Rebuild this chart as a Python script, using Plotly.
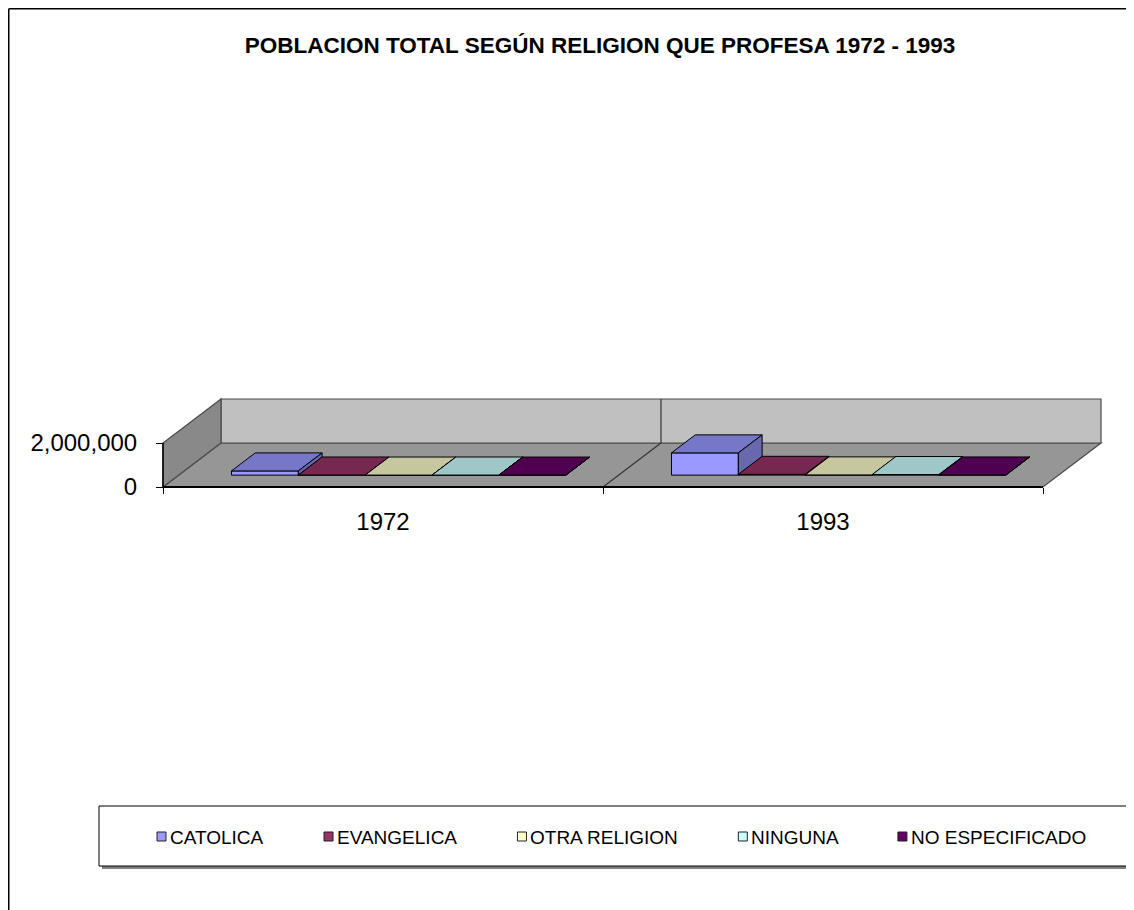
import plotly.graph_objects as go

# ---------------- data ----------------
categories = ["1972", "1993"]
series_names = ["CATOLICA", "EVANGELICA", "OTRA RELIGION", "NINGUNA", "NO ESPECIFICADO"]
catolica = [190000, 1010000]
evangelica = [4000, 35000]
otra_religion = [2000, 10000]
ninguna = [3000, 25000]
no_especificado = [1000, 6000]
y_tick_values = [0, 2000000]
y_tick_labels = ["0", "2,000,000"]
series_colors = ["#9999FF", "#993366", "#FFFFCC", "#CCFFFF", "#660066"]

series_values = [catolica, evangelica, otra_religion, ninguna, no_especificado]

# ---------------- geometry (oblique 3-D look) ----------------
OFF = 8                      # page body margin
W, H = 1134 - OFF, 910 - OFF


def fx(px):                  # window pixel -> figure pixel
    return px - OFF


PLOT_L, PLOT_R, PLOT_T, PLOT_B = fx(161), fx(1110), fx(397), fx(489)
PX_PER_CAT = 440.0
PX_PER_VAL = 22.0 / 1e6
X0_PX, Y0_PX = fx(163), fx(487)  # pixel of x=0 / value=0

x_range = [(PLOT_L - X0_PX) / PX_PER_CAT, (PLOT_R - X0_PX) / PX_PER_CAT]
y_range = [-(PLOT_B - Y0_PX) / PX_PER_VAL, (Y0_PX - PLOT_T) / PX_PER_VAL]

WALL_H = y_tick_values[-1]
DEPTH_DX = 58.0 / PX_PER_CAT
DEPTH_DY = 44.0 / PX_PER_VAL
D0, D1 = 0.27, 0.68
BAR_W = 0.152
GAP = 0.12
ddx = (D1 - D0) * DEPTH_DX
ddy = (D1 - D0) * DEPTH_DY
FONT = "Liberation Sans, Arial, sans-serif"


def shade(hexcol, f):
    h = hexcol.lstrip("#")
    r, g, b = (int(h[i:i + 2], 16) for i in (0, 2, 4))
    return "rgb(%d,%d,%d)" % (round(r * f), round(g * f), round(b * f))


fig = go.Figure()
ncat = len(categories)

for i, (name, vals, col) in enumerate(zip(series_names, series_values, series_colors)):
    xs_front, bases = [], []
    top_x, top_y, side_x, side_y = [], [], [], []
    for j, v in enumerate(vals):
        xl = j + GAP + i * BAR_W + D0 * DEPTH_DX
        base = D0 * DEPTH_DY
        xs_front.append(xl + BAR_W / 2)
        bases.append(base)
        yt = base + v
        top_x += [xl, xl + BAR_W, xl + BAR_W + ddx, xl + ddx, xl, None]
        top_y += [yt, yt, yt + ddy, yt + ddy, yt, None]
        xr = xl + BAR_W
        side_x += [xr, xr, xr + ddx, xr + ddx, xr, None]
        side_y += [base, yt, yt + ddy, base + ddy, base, None]
    fig.add_trace(go.Bar(
        x=xs_front, y=vals, base=bases, width=BAR_W, name=name,
        marker=dict(color=col, line=dict(color="black", width=1)),
        showlegend=False,
    ))
    fig.add_trace(go.Scatter(
        x=top_x, y=top_y, mode="lines", fill="toself",
        fillcolor=shade(col, 0.78), line=dict(color="black", width=1),
        showlegend=False, hoverinfo="skip",
    ))
    fig.add_trace(go.Scatter(
        x=side_x, y=side_y, mode="lines", fill="toself",
        fillcolor=shade(col, 0.68), line=dict(color="black", width=1),
        showlegend=False, hoverinfo="skip",
    ))

# ---------------- walls / floor ----------------
def P(pts):
    return "M " + " L ".join("%.6f,%.3f" % p for p in pts) + " Z"

edge = dict(color="#4a4a4a", width=1.2)
shapes = [
    dict(type="path", xref="x", yref="y", layer="below",
         path=P([(0, 0), (ncat, 0), (ncat + DEPTH_DX, DEPTH_DY), (DEPTH_DX, DEPTH_DY)]),
         fillcolor="#969696", line=edge),
    dict(type="path", xref="x", yref="y", layer="below",
         path=P([(DEPTH_DX, DEPTH_DY), (ncat + DEPTH_DX, DEPTH_DY),
                 (ncat + DEPTH_DX, DEPTH_DY + WALL_H), (DEPTH_DX, DEPTH_DY + WALL_H)]),
         fillcolor="#C0C0C0", line=edge),
    dict(type="path", xref="x", yref="y", layer="below",
         path=P([(0, 0), (DEPTH_DX, DEPTH_DY), (DEPTH_DX, DEPTH_DY + WALL_H), (0, WALL_H)]),
         fillcolor="#898989", line=edge),
]
for k in range(1, ncat):
    shapes.append(dict(type="path", xref="x", yref="y", layer="below",
                       path="M %f,0 L %f,%f L %f,%f" % (k, k + DEPTH_DX, DEPTH_DY,
                                                       k + DEPTH_DX, DEPTH_DY + WALL_H),
                       line=dict(color="#333333", width=1.2)))
shapes.append(dict(type="line", xref="x", yref="y", layer="below",
                   x0=0, x1=ncat, y0=0, y1=0, line=dict(color="black", width=2)))
shapes.append(dict(type="line", xref="x", yref="y", layer="below",
                   x0=0, x1=0, y0=0, y1=WALL_H, line=dict(color="black", width=1.5)))


def px_x(px):   # window px -> paper x
    return (fx(px) - PLOT_L) / (PLOT_R - PLOT_L)


def px_y(py):   # window px -> paper y
    return (PLOT_B - fx(py)) / (PLOT_B - PLOT_T)


# chart-area border (left and top visible)
shapes.append(dict(type="line", xref="paper", yref="paper",
                   x0=px_x(8.75), x1=px_x(8.75), y0=px_y(8.75), y1=px_y(915),
                   line=dict(color="black", width=1.5)))
shapes.append(dict(type="line", xref="paper", yref="paper",
                   x0=px_x(8.75), x1=px_x(1140), y0=px_y(8.75), y1=px_y(8.75),
                   line=dict(color="black", width=1.5)))
# legend box with shadow
shapes.append(dict(type="rect", xref="paper", yref="paper",
                   x0=px_x(102), x1=px_x(1145), y0=px_y(809), y1=px_y(869),
                   fillcolor="#808080", line=dict(width=0)))
shapes.append(dict(type="rect", xref="paper", yref="paper",
                   x0=px_x(99), x1=px_x(1142), y0=px_y(806), y1=px_y(866),
                   fillcolor="white", line=dict(color="black", width=1)))

# legend entries (swatch + label), laid out like the original
LEG_FONT = 19
LEG_Y = 837
LEG_GAP = 60
char_w = {"C": .722, "A": .667, "T": .611, "O": .778, "L": .556, "I": .278, "E": .667,
          "V": .667, "N": .722, "G": .778, "R": .722, "U": .722, "S": .667, "P": .667,
          "F": .611, "D": .722, " ": .278}
annotations = []
x_cur = 157
for name, col in zip(series_names, series_colors):
    shapes.append(dict(type="rect", xref="paper", yref="paper",
                       x0=px_x(x_cur), x1=px_x(x_cur + 9),
                       y0=px_y(LEG_Y - 5), y1=px_y(LEG_Y + 4),
                       fillcolor=col, line=dict(color="#222222", width=1)))
    annotations.append(dict(text=name, xref="paper", yref="paper",
                            x=px_x(x_cur + 11), y=px_y(LEG_Y), xanchor="left",
                            yanchor="middle", showarrow=False,
                            font=dict(family=FONT, size=LEG_FONT, color="black")))
    tw = sum(char_w.get(c, .667) for c in name) * LEG_FONT
    x_cur += 12 + tw + LEG_GAP

fig.update_layout(
    width=W, height=H,
    margin=dict(l=PLOT_L, r=W - PLOT_R, t=PLOT_T, b=H - PLOT_B, pad=0),
    paper_bgcolor="white", plot_bgcolor="rgba(0,0,0,0)",
    barmode="overlay",
    shapes=shapes,
    annotations=annotations,
    font=dict(family=FONT, color="black"),
    title=dict(text="POBLACION TOTAL SEGÚN RELIGION QUE PROFESA 1972 - 1993",
               font=dict(family=FONT, size=22.5, weight=700, color="black"),
               xref="container", yref="container", x=fx(600) / W, y=1 - fx(45) / H,
               xanchor="center", yanchor="middle"),
    xaxis=dict(range=x_range, showgrid=False, zeroline=False, showline=False,
               anchor="free", position=(PLOT_B - Y0_PX) / (PLOT_B - PLOT_T),
               tickmode="array", tickvals=[j + 0.5 for j in range(ncat)], ticktext=categories,
               ticks="", tickfont=dict(size=24, family=FONT), ticklabelstandoff=18,
               minor=dict(tickmode="array", tickvals=list(range(ncat + 1)), ticks="outside",
                          ticklen=6, tickcolor="black", tickwidth=1.2)),
    yaxis=dict(range=y_range, showgrid=False, zeroline=False, showline=False,
               anchor="free", position=(X0_PX - PLOT_L) / (PLOT_R - PLOT_L),
               tickmode="array", tickvals=y_tick_values, ticktext=y_tick_labels,
               ticks="outside", ticklen=7, tickcolor="black", tickwidth=1.2,
               tickfont=dict(size=24, family=FONT), ticklabelstandoff=14),
    showlegend=False,
)

fig.write_html("out.html")
